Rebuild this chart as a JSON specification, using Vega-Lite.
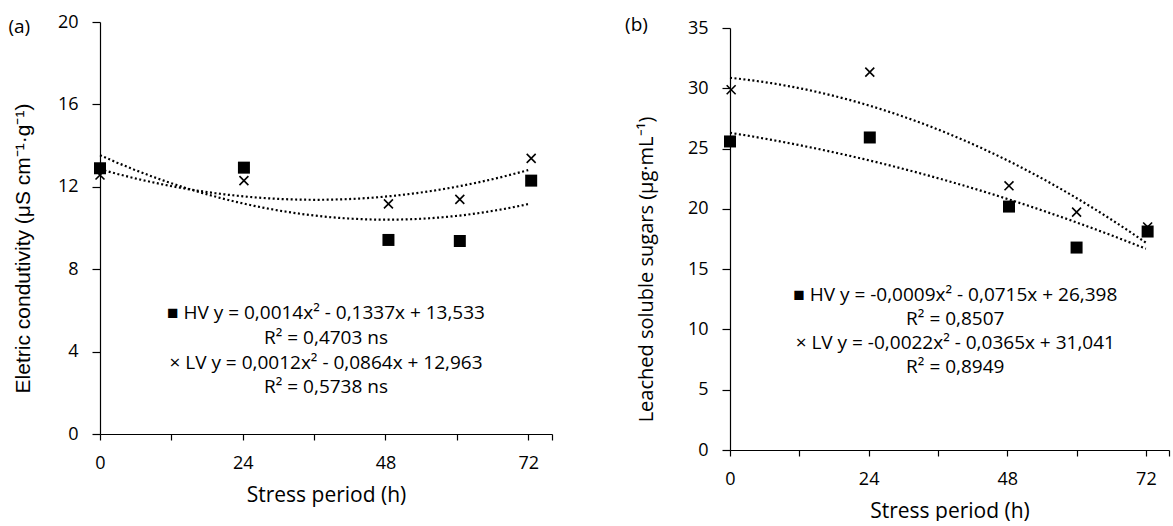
{
  "$schema": "https://vega.github.io/schema/vega-lite/v6.json",
  "background": "white",
  "padding": {"left": 8, "top": 13, "right": 2, "bottom": 0},
  "spacing": 72,
  "config": {
    "view": {"stroke": null},
    "font": "Open Sans",
    "axis": {
      "grid": false,
      "domainColor": "#000",
      "domainWidth": 1.2,
      "tickColor": "#000",
      "tickWidth": 1.2,
      "labelColor": "#000",
      "titleColor": "#000",
      "labelFont": "Open Sans",
      "titleFont": "Open Sans",
      "labelFontSize": 18,
      "titleFontSize": 20,
      "titleFontWeight": "normal"
    }
  },
  "datasets": {
    "ec": [
      {"period": 0, "value": 12.9, "variety": "HV"},
      {"period": 24.2, "value": 12.93, "variety": "HV"},
      {"period": 48.5, "value": 9.42, "variety": "HV"},
      {"period": 60.5, "value": 9.37, "variety": "HV"},
      {"period": 72.5, "value": 12.3, "variety": "HV"},
      {"period": 0, "value": 12.57, "variety": "LV"},
      {"period": 24.2, "value": 12.3, "variety": "LV"},
      {"period": 48.5, "value": 11.17, "variety": "LV"},
      {"period": 60.5, "value": 11.39, "variety": "LV"},
      {"period": 72.5, "value": 13.38, "variety": "LV"}
    ],
    "lss": [
      {"period": 0, "value": 25.59, "variety": "HV"},
      {"period": 24.2, "value": 25.92, "variety": "HV"},
      {"period": 48.3, "value": 20.19, "variety": "HV"},
      {"period": 60, "value": 16.79, "variety": "HV"},
      {"period": 72.3, "value": 18.12, "variety": "HV"},
      {"period": 0.2, "value": 29.88, "variety": "LV"},
      {"period": 24.2, "value": 31.34, "variety": "LV"},
      {"period": 48.3, "value": 21.91, "variety": "LV"},
      {"period": 60, "value": 19.73, "variety": "LV"},
      {"period": 72.3, "value": 18.5, "variety": "LV"}
    ]
  },
  "hconcat": [
    {
      "width": 452,
      "height": 412,
      "layer": [
        {
          "data": {"name": "ec"},
          "transform": [
            {"filter": "datum.variety === 'HV'"},
            {"regression": "value", "on": "period", "method": "poly", "order": 2, "extent": [0, 72]}
          ],
          "mark": {"type": "line", "color": "#000", "strokeWidth": 2.2, "strokeDash": [2, 2.5]},
          "encoding": {
            "x": {
              "field": "period",
              "type": "quantitative",
              "scale": {"domain": [0, 76], "nice": false, "zero": false},
              "axis": {
                "values": [0, 12, 24, 36, 48, 60, 72, 76],
                "labelExpr": "datum.value % 24 === 0 ? datum.label : ''",
                "labelFlush": false,
                "labelOverlap": false,
                "tickSize": 6,
                "labelPadding": 14,
                "title": "Stress period (h)",
                "titleFontSize": 21,
                "titlePadding": 12
              }
            },
            "y": {
              "field": "value",
              "type": "quantitative",
              "scale": {"domain": [0, 20], "nice": false},
              "axis": {
                "values": [0, 4, 8, 12, 16, 20],
                "tickSize": 8,
                "labelPadding": 14,
                "title": "Eletric condutivity (μS cm⁻¹·g⁻¹)",
                "titleFont": "Liberation Sans",
                "titleFontSize": 21,
                "titlePadding": 24,
                "titleY": 226
              }
            }
          }
        },
        {
          "data": {"name": "ec"},
          "transform": [
            {"filter": "datum.variety === 'LV'"},
            {"regression": "value", "on": "period", "method": "poly", "order": 2, "extent": [0, 72]}
          ],
          "mark": {"type": "line", "color": "#000", "strokeWidth": 2.2, "strokeDash": [2, 2.5]},
          "encoding": {
            "x": {"field": "period", "type": "quantitative"},
            "y": {"field": "value", "type": "quantitative"}
          }
        },
        {
          "data": {"name": "ec"},
          "transform": [{"filter": "datum.variety === 'LV'"}],
          "mark": {"type": "point", "shape": "M-1,-1L1,1M-1,1L1,-1", "filled": false, "stroke": "#000", "strokeWidth": 1.6, "size": 80, "opacity": 1},
          "encoding": {
            "x": {"field": "period", "type": "quantitative"},
            "y": {"field": "value", "type": "quantitative"}
          }
        },
        {
          "data": {"name": "ec"},
          "transform": [{"filter": "datum.variety === 'HV'"}],
          "mark": {"type": "square", "color": "#000", "size": 144, "opacity": 1},
          "encoding": {
            "x": {"field": "period", "type": "quantitative"},
            "y": {"field": "value", "type": "quantitative"}
          }
        },
        {
          "data": {"values": [{"t": "■ HV y = 0,0014x² - 0,1337x + 13,533"}]},
          "mark": {"type": "text", "fontSize": 19, "align": "center", "baseline": "middle", "color": "#000"},
          "encoding": {"x": {"datum": 38}, "y": {"datum": 5.85}, "text": {"field": "t"}}
        },
        {
          "data": {"values": [{"t": "R² = 0,4703 ns"}]},
          "mark": {"type": "text", "fontSize": 19, "align": "center", "baseline": "middle", "color": "#000"},
          "encoding": {"x": {"datum": 38}, "y": {"datum": 4.66}, "text": {"field": "t"}}
        },
        {
          "data": {"values": [{"t": "× LV y = 0,0012x² - 0,0864x + 12,963"}]},
          "mark": {"type": "text", "fontSize": 19, "align": "center", "baseline": "middle", "color": "#000"},
          "encoding": {"x": {"datum": 38}, "y": {"datum": 3.45}, "text": {"field": "t"}}
        },
        {
          "data": {"values": [{"t": "R² = 0,5738 ns"}]},
          "mark": {"type": "text", "fontSize": 19, "align": "center", "baseline": "middle", "color": "#000"},
          "encoding": {"x": {"datum": 38}, "y": {"datum": 2.28}, "text": {"field": "t"}}
        },
        {
          "data": {"values": [{"t": "(a)"}]},
          "mark": {"type": "text", "fontSize": 19, "align": "left", "baseline": "middle", "color": "#000"},
          "encoding": {"x": {"datum": -15.4}, "y": {"datum": 19.77}, "text": {"field": "t"}}
        }
      ]
    },
    {
      "width": 439,
      "height": 428,
      "layer": [
        {
          "data": {"name": "lss"},
          "transform": [
            {"filter": "datum.variety === 'HV'"},
            {"regression": "value", "on": "period", "method": "poly", "order": 2, "extent": [0, 72]}
          ],
          "mark": {"type": "line", "color": "#000", "strokeWidth": 2.2, "strokeDash": [2, 2.5]},
          "encoding": {
            "x": {
              "field": "period",
              "type": "quantitative",
              "scale": {"domain": [0, 76], "nice": false, "zero": false},
              "axis": {
                "values": [0, 12, 24, 36, 48, 60, 72, 76],
                "labelExpr": "datum.value % 24 === 0 ? datum.label : ''",
                "labelFlush": false,
                "labelOverlap": false,
                "tickSize": 6,
                "labelPadding": 14,
                "title": "Stress period (h)",
                "titleFontSize": 21,
                "titlePadding": 12
              }
            },
            "y": {
              "field": "value",
              "type": "quantitative",
              "scale": {"domain": [0, 35], "nice": false, "range": [428, 6]},
              "axis": {
                "values": [0, 5, 10, 15, 20, 25, 30, 35],
                "tickSize": 8,
                "labelPadding": 14,
                "title": "Leached soluble sugars (μg·mL⁻¹)",
                "titleFontSize": 20,
                "titlePadding": 31,
                "titleY": 247
              }
            }
          }
        },
        {
          "data": {"name": "lss"},
          "transform": [
            {"filter": "datum.variety === 'LV'"},
            {"regression": "value", "on": "period", "method": "poly", "order": 2, "extent": [0, 72]}
          ],
          "mark": {"type": "line", "color": "#000", "strokeWidth": 2.2, "strokeDash": [2, 2.5]},
          "encoding": {
            "x": {"field": "period", "type": "quantitative"},
            "y": {"field": "value", "type": "quantitative"}
          }
        },
        {
          "data": {"name": "lss"},
          "transform": [{"filter": "datum.variety === 'LV'"}],
          "mark": {"type": "point", "shape": "M-1,-1L1,1M-1,1L1,-1", "filled": false, "stroke": "#000", "strokeWidth": 1.6, "size": 80, "opacity": 1},
          "encoding": {
            "x": {"field": "period", "type": "quantitative"},
            "y": {"field": "value", "type": "quantitative"}
          }
        },
        {
          "data": {"name": "lss"},
          "transform": [{"filter": "datum.variety === 'HV'"}],
          "mark": {"type": "square", "color": "#000", "size": 144, "opacity": 1},
          "encoding": {
            "x": {"field": "period", "type": "quantitative"},
            "y": {"field": "value", "type": "quantitative"}
          }
        },
        {
          "data": {"values": [{"t": "■ HV y = -0,0009x² - 0,0715x + 26,398"}]},
          "mark": {"type": "text", "fontSize": 19, "align": "center", "baseline": "middle", "color": "#000"},
          "encoding": {"x": {"datum": 39}, "y": {"datum": 12.86}, "text": {"field": "t"}}
        },
        {
          "data": {"values": [{"t": "R² = 0,8507"}]},
          "mark": {"type": "text", "fontSize": 19, "align": "center", "baseline": "middle", "color": "#000"},
          "encoding": {"x": {"datum": 39}, "y": {"datum": 10.87}, "text": {"field": "t"}}
        },
        {
          "data": {"values": [{"t": "× LV y = -0,0022x² - 0,0365x + 31,041"}]},
          "mark": {"type": "text", "fontSize": 19, "align": "center", "baseline": "middle", "color": "#000"},
          "encoding": {"x": {"datum": 39}, "y": {"datum": 8.84}, "text": {"field": "t"}}
        },
        {
          "data": {"values": [{"t": "R² = 0,8949"}]},
          "mark": {"type": "text", "fontSize": 19, "align": "center", "baseline": "middle", "color": "#000"},
          "encoding": {"x": {"datum": 39}, "y": {"datum": 6.85}, "text": {"field": "t"}}
        },
        {
          "data": {"values": [{"t": "(b)"}]},
          "mark": {"type": "text", "fontSize": 19, "align": "left", "baseline": "middle", "color": "#000"},
          "encoding": {"x": {"datum": -18.16}, "y": {"datum": 35.25}, "text": {"field": "t"}}
        }
      ]
    }
  ]
}
